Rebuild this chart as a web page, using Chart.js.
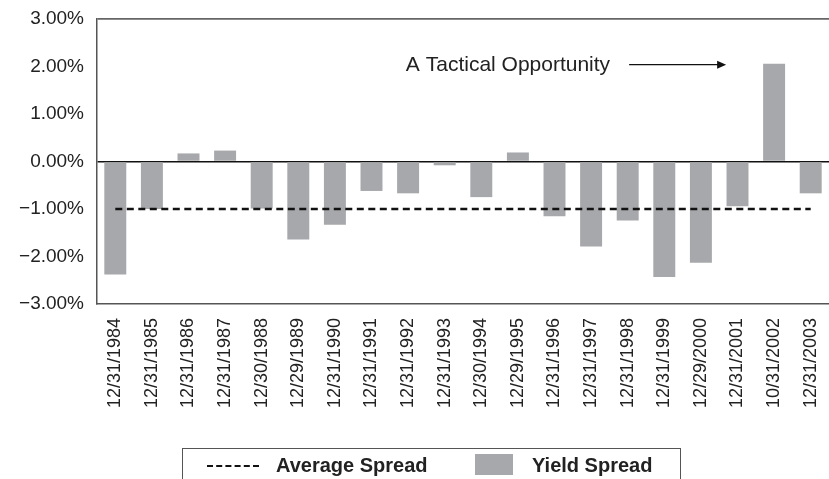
<!DOCTYPE html>
<html>
<head>
<meta charset="utf-8">
<script src="https://cdn.jsdelivr.net/npm/chart.js@4/dist/chart.umd.min.js"></script>
<style>
  html, body { margin: 0; padding: 0; background: #fff; }
  #wrap { position: relative; width: 829px; height: 479px; font-family: 'Liberation Sans', Arial, sans-serif; }
  #legend {
    position: absolute; left: 182px; top: 448px; width: 499px; height: 40px;
    border: 1.5px solid #555; box-sizing: border-box; color: #222;
    font-weight: bold; font-size: 20px;
  }
  #legend .dash { position: absolute; left: 24px; top: 16px; width: 52px; border-top: 2.5px dashed #111; }
  #legend .swatch { position: absolute; left: 292px; top: 5px; width: 38px; height: 21px; background: #a7a8ab; }
  #legend .lbl { position: absolute; top: 5px; line-height: 22px; }
</style>
</head>
<body>
<div id="wrap">
  <canvas id="chart"></canvas>
  <div id="legend">
    <span class="dash"></span><span class="lbl" style="left:93px">Average Spread</span>
    <span class="swatch"></span><span class="lbl" style="left:349px">Yield Spread</span>
  </div>
</div>
<script>
const DATES = ['12/31/1984', '12/31/1985', '12/31/1986', '12/31/1987', '12/30/1988', '12/29/1989',
  '12/31/1990', '12/31/1991', '12/31/1992', '12/31/1993', '12/30/1994', '12/29/1995', '12/31/1996',
  '12/31/1997', '12/31/1998', '12/31/1999', '12/29/2000', '12/31/2001', '10/31/2002', '12/31/2003'];

const YIELD_SPREAD = [-2.38, -1.00, 0.17, 0.23, -0.99, -1.64, -1.33, -0.62, -0.67, -0.08,
  -0.75, 0.19, -1.15, -1.79, -1.24, -2.43, -2.13, -0.94, 2.06, -0.67];

const AVERAGE_SPREAD = [-1.00, -1.00, -1.00, -1.00, -1.00, -1.00, -1.00, -1.00, -1.00, -1.00,
  -1.00, -1.00, -1.00, -1.00, -1.00, -1.00, -1.00, -1.00, -1.00, -1.00];

const Y_TICKS = [-3, -2, -1, 0, 1, 2, 3];

const ANNOTATION_TEXT = 'A Tactical Opportunity';
const ANNOTATION_INDEX = 18;

function formatPercent(v) {
  return v.toFixed(2).replace('-', '\u2212') + '%';
}

// text + arrow pointing at the 2002 bar
const annotation = {
  id: 'annotation',
  afterDatasetsDraw(chart) {
    const { ctx, scales } = chart;
    const bar = chart.getDatasetMeta(0).data[ANNOTATION_INDEX];
    const barLeft = bar.x - bar.width / 2;
    const y = scales.y.getPixelForValue(YIELD_SPREAD[ANNOTATION_INDEX]) + 1;
    const tip = barLeft - 37;
    const start = tip - 97;

    ctx.save();
    ctx.strokeStyle = '#111';
    ctx.fillStyle = '#111';
    ctx.lineWidth = 1.3;
    ctx.beginPath();
    ctx.moveTo(start, y);
    ctx.lineTo(tip - 8, y);
    ctx.stroke();
    ctx.beginPath();
    ctx.moveTo(tip, y);
    ctx.lineTo(tip - 9, y - 4);
    ctx.lineTo(tip - 9, y + 4);
    ctx.closePath();
    ctx.fill();

    ctx.font = '21px "Liberation Sans", Arial, sans-serif';
    ctx.fillStyle = '#222';
    ctx.textAlign = 'right';
    ctx.textBaseline = 'middle';
    ctx.fillText(ANNOTATION_TEXT, start - 19, y + 1);
    ctx.restore();
  },
};

const canvas = document.getElementById('chart');
canvas.width = 829;
canvas.height = 479;

new Chart(canvas.getContext('2d'), {
  type: 'bar',
  data: {
    labels: DATES,
    datasets: [
      {
        type: 'bar',
        label: 'Yield Spread',
        data: YIELD_SPREAD,
        backgroundColor: '#a7a8ab',
        borderWidth: 0,
        barPercentage: 0.6,
        categoryPercentage: 1,
        order: 2,
      },
      {
        type: 'line',
        label: 'Average Spread',
        data: AVERAGE_SPREAD,
        borderColor: '#111',
        borderWidth: 2.6,
        borderDash: [7, 4.5],
        pointRadius: 0,
        fill: false,
        order: 1,
      },
    ],
  },
  options: {
    responsive: false,
    animation: false,
    layout: { padding: { top: 19, right: 0, left: 0, bottom: 0 } },
    plugins: {
      legend: { display: false },
      tooltip: { enabled: false },
    },
    scales: {
      x: {
        grid: { display: false, drawTicks: false },
        border: { display: true, color: '#555', width: 1.5 },
        ticks: {
          minRotation: 90,
          maxRotation: 90,
          autoSkip: false,
          padding: 14,
          color: '#222',
          font: { family: '"Liberation Sans", Arial, sans-serif', size: 18 },
        },
        afterFit(scale) {
          scale.height = 175;
          scale.paddingLeft = 0;
          scale.paddingRight = 0;
        },
      },
      y: {
        min: Y_TICKS[0],
        max: Y_TICKS[Y_TICKS.length - 1],
        grid: {
          drawTicks: false,
          color: (c) => (c.tick.value === 0 ? '#111' : c.tick.value === 3 ? '#666' : 'rgba(0,0,0,0)'),
          lineWidth: (c) => (c.tick.value === 3 ? 1.7 : 1.5),
        },
        border: { display: true, color: '#555', width: 1.5 },
        afterBuildTicks(scale) { scale.ticks = Y_TICKS.map((v) => ({ value: v })); },
        ticks: {
          padding: 13,
          color: '#222',
          font: { family: '"Liberation Sans", Arial, sans-serif', size: 19 },
          callback: (v) => formatPercent(v),
        },
        afterFit(scale) {
          scale.width = 97;
          scale.paddingTop = 0;
          scale.paddingBottom = 0;
        },
      },
    },
  },
  plugins: [annotation],
});
</script>
</body>
</html>
